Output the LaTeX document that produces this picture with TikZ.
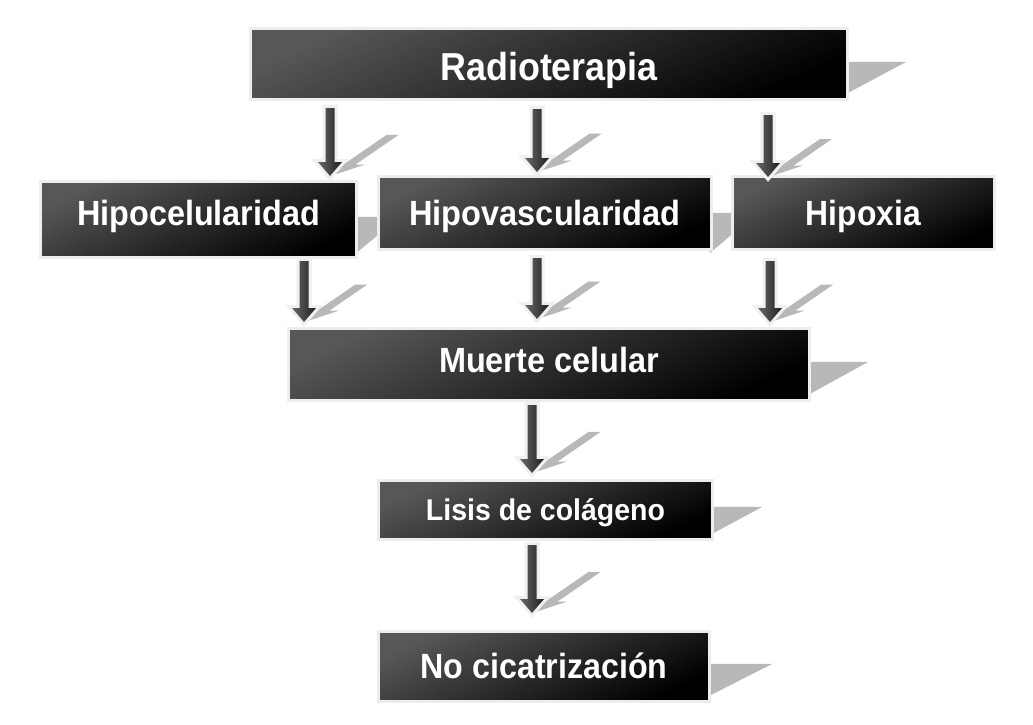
\documentclass[tikz,border=0pt]{standalone}
\usepackage{fontspec}
\usepackage{graphicx}
\usetikzlibrary{calc}
\setmainfont{Liberation Sans}
\begin{document}
\begin{tikzpicture}[x=1pt,y=1pt,
  box/.style={rectangle, inner sep=0pt, outer sep=0pt, draw=black!7, line width=3pt,
    top color=black!66, bottom color=black, shading angle=25, text=white},
  boxshadow/.style={fill=black!28},
  arrshadow/.style={fill=black!28},
  arrbody/.style={draw=black!6, line width=3pt, line join=miter,
    left color=black!55, right color=black!92}
]
\newcommand\lab[4]{\fontsize{#1}{#1}\selectfont\bfseries\scalebox{#2}[1]{#4}}
% #1 x, #2 source node, #3 target node, #4 top gap, #5 bottom gap
\newcommand\barrowshadow[5]{%
  \fill[arrshadow] let \p1=(#2.south), \p2=(#3.north), \n1={\y1-#4}, \n2={\y2+#5}, \n3={\n1-\n2} in
    ({#1-6+0.8*\n3+5},{\n2+0.55*\n3+4}) -- ({#1+6+0.8*\n3+5},{\n2+0.55*\n3+4})
    -- ({#1+6+0.8*18+5},{\n2+0.55*18+4}) -- ({#1+15.5+0.8*18+5},{\n2+0.55*18+4})
    -- ({#1+5},{\n2+4}) -- ({#1-15.5+0.8*18+5},{\n2+0.55*18+4})
    -- ({#1-6+0.8*18+5},{\n2+0.55*18+4}) -- cycle;}
\newcommand\barrow[5]{%
  \shadedraw[arrbody] let \p1=(#2.south), \p2=(#3.north), \n1={\y1-#4}, \n2={\y2+#5} in
    ({#1-6},{\n1}) -- ({#1+6},{\n1}) -- ({#1+6},{\n2+18}) -- ({#1+15.5},{\n2+18})
    -- ({#1},{\n2}) -- ({#1-15.5},{\n2+18}) -- ({#1-6},{\n2+18}) -- cycle;}
\useasboundingbox (0,0) rectangle (1033,725);
\fill[white] (0,0) rectangle (1033,725);

% box shadows
\fill[boxshadow] (846,663) -- (906,663) -- (846,631) -- cycle;
\fill[boxshadow] (355,508) -- (400,508) -- (355,471) -- cycle;
\fill[boxshadow] (710,512) -- (757,512) -- (710,472) -- cycle;
\fill[boxshadow] (808,363) -- (868,363) -- (808,330) -- cycle;
\fill[boxshadow] (710,218) -- (762,218) -- (710,190) -- cycle;
\fill[boxshadow] (707,61) -- (772,61) -- (707,28) -- cycle;

% boxes
\node[box, minimum width=597, minimum height=71, text height=34pt, text depth=0pt] (radio) at (549,661) {\lab{39}{0.92}{}{Radioterapia}};
\node[box, minimum width=316, minimum height=76, text height=25pt, text depth=12pt] (hipoc) at (198.5,505.5) {\lab{35}{0.925}{}{Hipocelularidad}};
\node[box, minimum width=333, minimum height=73, text height=25pt, text depth=0pt] (hipov) at (545,512) {\lab{35}{0.93}{}{Hipovascularidad}};
\node[box, minimum width=262, minimum height=73, text height=25pt, text depth=0pt] (hipox) at (863.5,512) {\lab{35}{0.91}{}{Hipoxia}};
\node[box, minimum width=521, minimum height=72, text height=25pt, text depth=8pt] (muerte) at (549,360.5) {\lab{35}{0.927}{}{Muerte celular}};
\node[box, minimum width=334, minimum height=59, text height=21pt, text depth=0pt] (lisis) at (545.5,215) {\lab{30}{0.95}{}{Lisis de colágeno}};
\node[box, minimum width=331, minimum height=70, text height=25pt, text depth=0pt] (noc) at (544,58.5) {\lab{35}{0.92}{}{No cicatrización}};

% arrow shadows
\barrowshadow{330}{radio}{hipoc}{7}{3}
\barrowshadow{537}{radio}{hipov}{8}{2}
\barrowshadow{768}{radio}{hipox}{14}{-3}
\barrowshadow{304}{hipoc}{muerte}{2}{4}
\barrowshadow{537}{hipov}{muerte}{7}{7}
\barrowshadow{770}{hipox}{muerte}{10}{4}
\barrowshadow{532}{muerte}{lisis}{3}{5}
\barrowshadow{532}{lisis}{noc}{4}{16}

% arrows
\barrow{330}{radio}{hipoc}{7}{3}
\barrow{537}{radio}{hipov}{8}{2}
\barrow{768}{radio}{hipox}{14}{-3}
\barrow{304}{hipoc}{muerte}{2}{4}
\barrow{537}{hipov}{muerte}{7}{7}
\barrow{770}{hipox}{muerte}{10}{4}
\barrow{532}{muerte}{lisis}{3}{5}
\barrow{532}{lisis}{noc}{4}{16}
\end{tikzpicture}
\end{document}
